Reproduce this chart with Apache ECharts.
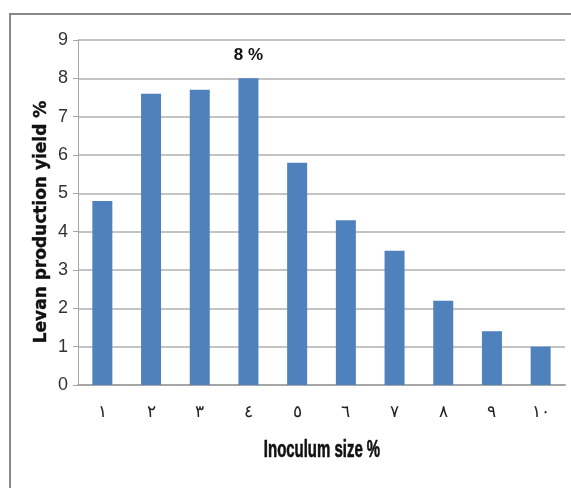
<!DOCTYPE html>
<html>
<head>
<meta charset="utf-8">
<script src="https://cdn.jsdelivr.net/npm/echarts@6/dist/echarts.min.js"></script>
<style>
  html, body { margin: 0; padding: 0; background: #fff; }
  #chart { width: 571px; height: 488px; }
</style>
</head>
<body>
<div id="chart"></div>
<script>
// Inoculum size (Arabic-Indic numerals) and levan yield (%)
const categories = ['١', '٢', '٣', '٤', '٥', '٦', '٧', '٨', '٩', '١٠'];
const yieldValues = [4.8, 7.6, 7.7, 8.0, 5.8, 4.3, 3.5, 2.2, 1.4, 1.0];
const yTicks = [0, 1, 2, 3, 4, 5, 6, 7, 8, 9];
const peakIndex = 3;
const peakLabel = '8 %';
const xTitle = 'Inoculum size %';
const yTitle = 'Levan production yield %';

const narrow = "'Liberation Sans Narrow', 'Arial Narrow', 'Liberation Sans', sans-serif";

const chart = echarts.init(document.getElementById('chart'), null, { renderer: 'canvas' });

function buildOption() {
  return {
    animation: false,
    backgroundColor: '#ffffff',
    grid: { left: 78, right: 6, top: 40, bottom: 103, containLabel: false },
    graphic: [
      {
        type: 'polyline',
        shape: { points: [[10, 488], [10, 14], [571, 14]] },
        style: { stroke: '#888888', lineWidth: 2, fill: null }
      },
      {
        // condensed bold title under the categories
        type: 'text',
        x: 322,
        y: 451,
        scaleX: 0.65,
        style: {
          text: xTitle,
          fontSize: 23,
          fontWeight: 'bold',
          fontFamily: "'Liberation Sans', sans-serif",
          fill: '#111',
          stroke: '#111',
          lineWidth: 0.6,
          align: 'center',
          verticalAlign: 'middle'
        }
      },
      {
        type: 'text',
        x: 42,
        y: 222,
        rotation: Math.PI / 2,
        style: {
          text: yTitle,
          fontSize: 17,
          fontWeight: 'bold',
          fontFamily: "'DejaVu Sans', sans-serif",
          fill: '#111',
          stroke: '#111',
          lineWidth: 0.4,
          align: 'center',
          verticalAlign: 'middle'
        }
      }
    ],
    xAxis: {
      type: 'category',
      data: categories,
      axisLine: { show: true, lineStyle: { color: '#a6a6a6', width: 2 } },
      axisTick: { show: false },
      axisLabel: { margin: 19, fontSize: 17, color: '#222', fontFamily: "'Noto Sans', sans-serif" }
    },
    yAxis: {
      type: 'value',
      min: yTicks[0],
      max: yTicks[yTicks.length - 1],
      interval: 1,
      axisLine: { show: true, lineStyle: { color: '#a6a6a6', width: 1 } },
      axisTick: { show: true, length: 5, lineStyle: { color: '#a6a6a6', width: 1 } },
      splitLine: { show: true, lineStyle: { color: '#b0b0b0', width: 1.5 } },
      axisLabel: { margin: 10, fontSize: 18, color: '#333', fontFamily: narrow }
    },
    series: [
      {
        type: 'bar',
        barWidth: 20,
        itemStyle: { color: '#4f81bd' },
        data: yieldValues.map((v, i) => i === peakIndex ? {
          value: v,
          label: {
            show: true,
            position: 'top',
            distance: 15,
            formatter: peakLabel,
            fontSize: 17,
            fontWeight: 'bold',
            color: '#111',
            fontFamily: narrow
          }
        } : v)
      }
    ]
  };
}

chart.setOption(buildOption());

// redraw once the local faces are ready so text metrics are right
if (document.fonts && document.fonts.load) {
  Promise.all([
    document.fonts.load("18px 'Liberation Sans Narrow'"),
    document.fonts.load("bold 17px 'Liberation Sans Narrow'"),
    document.fonts.load("bold 23px 'Liberation Sans'"),
    document.fonts.load("bold 17px 'DejaVu Sans'"),
    document.fonts.load("17px 'Noto Sans'")
  ]).then(() => {
    chart.clear();
    chart.setOption(buildOption());
  }).catch(() => {});
}
</script>
</body>
</html>
